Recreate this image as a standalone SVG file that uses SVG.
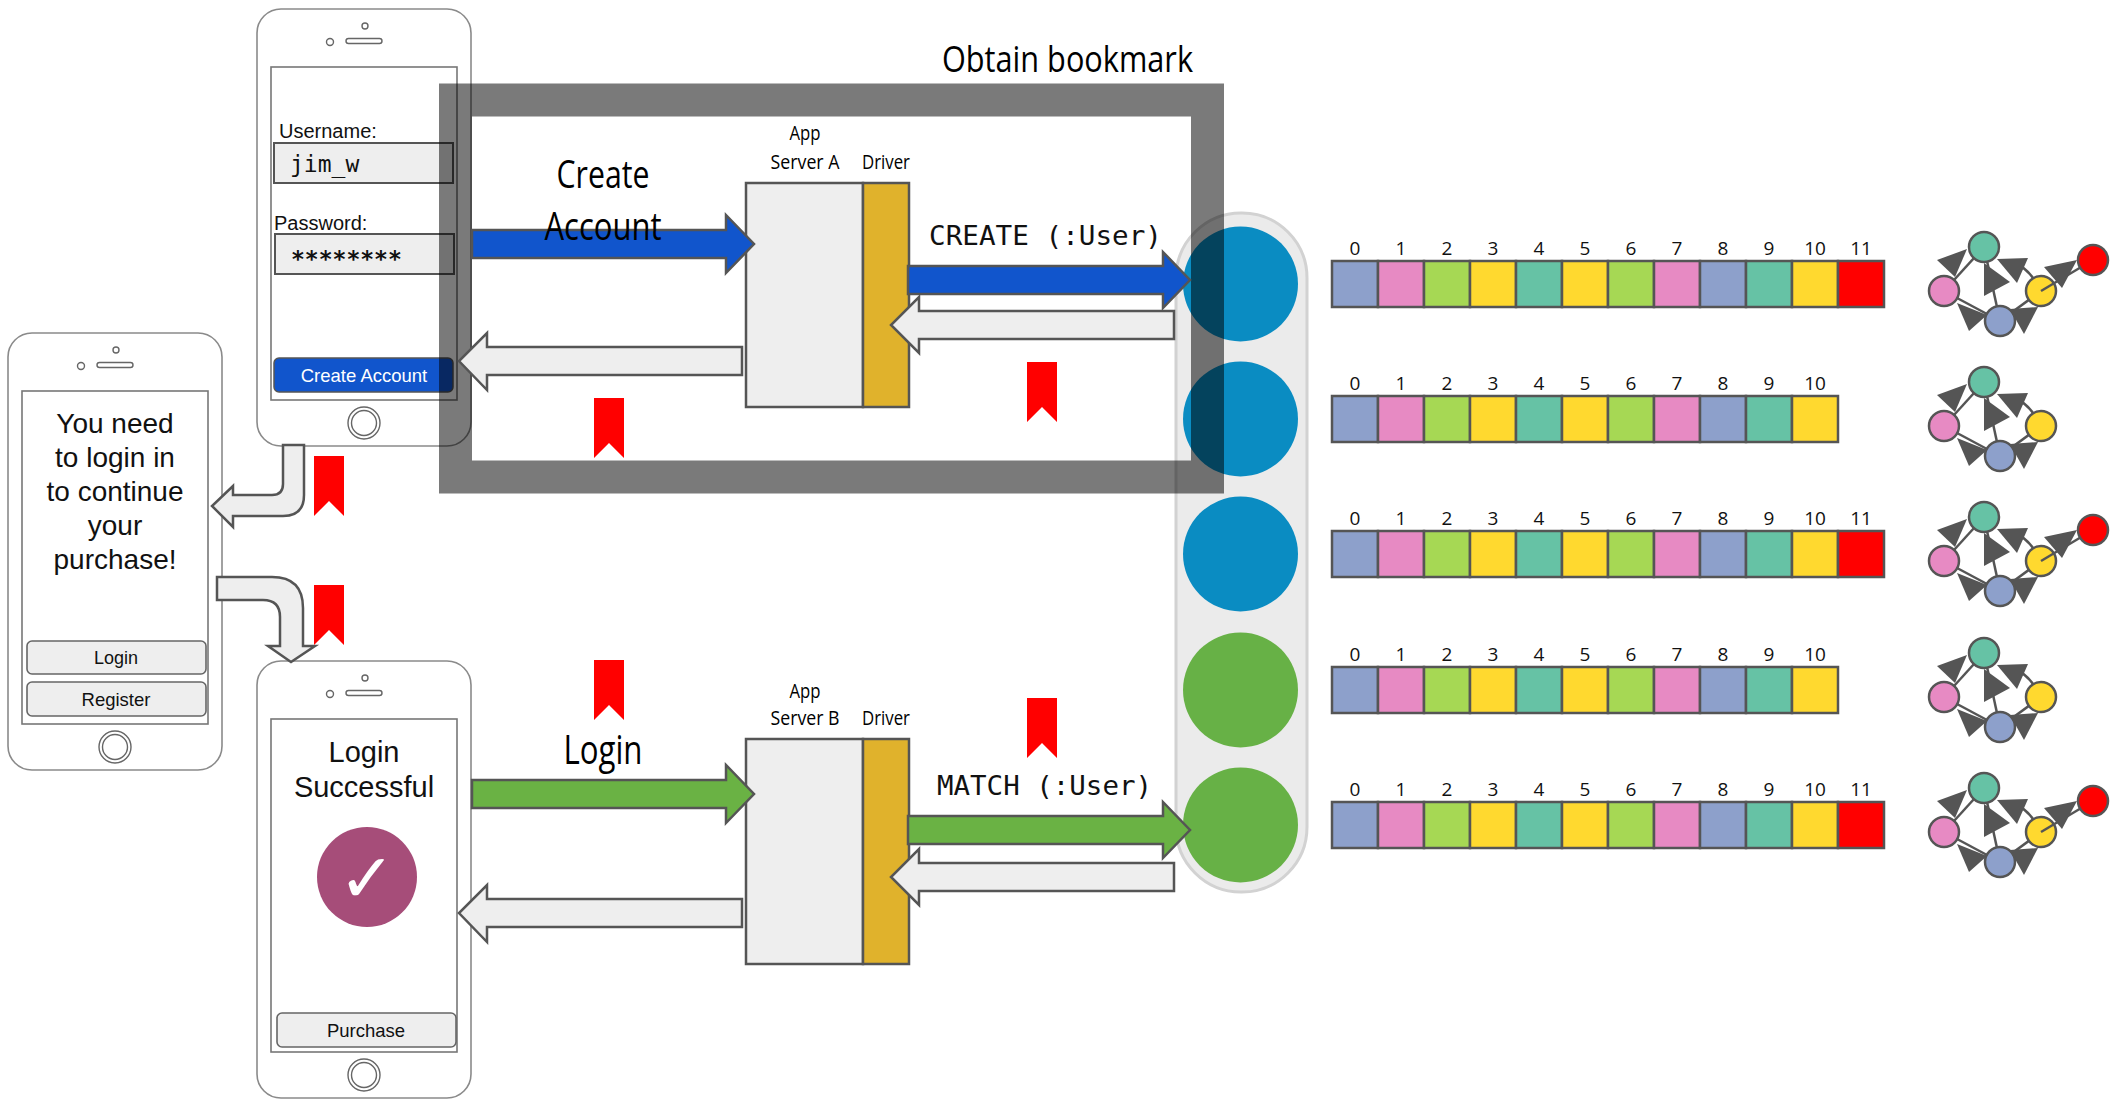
<svg xmlns="http://www.w3.org/2000/svg" xmlns:xlink="http://www.w3.org/1999/xlink" width="2120" height="1101" viewBox="0 0 2120 1101">
  <style>
    .body { fill: #ffffff; stroke: #8a8a8a; stroke-width: 1.6; }
    .screen { fill: #ffffff; stroke: #777777; stroke-width: 1.6; }
    .dot { fill: #ffffff; stroke: #666666; stroke-width: 1.4; }
    .btn { fill: #eeeeee; stroke: #666666; stroke-width: 1.6; }
    .field { fill: #eeeeee; stroke: #555555; stroke-width: 2; }
    .ui { font-family: "Liberation Sans", Arial, sans-serif; fill: #111111; }
    .mono { font-family: "DejaVu Sans Mono", "Liberation Mono", monospace; fill: #111111; }
    .label { font-family: "Open Sans", "Liberation Sans", sans-serif; fill: #000000; }
    .gray-arrow { fill: #eeeeee; stroke: #555555; stroke-width: 2.5; stroke-linejoin: miter; }
    .blue-arrow { fill: #1155cc; stroke: #555555; stroke-width: 2.5; }
    .green-arrow { fill: #6ab244; stroke: #555555; stroke-width: 2.5; }
    .server { fill: #eeeeee; stroke: #555555; stroke-width: 2.5; }
    .driver { fill: #e0b22c; stroke: #555555; stroke-width: 2.5; }
    .cell { stroke: #555555; stroke-width: 2.5; }
    .idx { font-family: "Open Sans", "Liberation Sans", sans-serif; font-size: 19px; fill: #111111; text-anchor: middle; }
    .gnode { stroke: #555555; stroke-width: 2.5; }
    .gedge { stroke: #555555; stroke-width: 2.5; fill: none; }
    .ghead { fill: #555555; }
    .bm { fill: #ff0000; }
  </style>
  <defs>
    <!-- handset outline shared by the three phones -->
    <g id="phone">
      <rect class="body" x="0" y="0" width="214" height="437" rx="24"/>
      <rect class="screen" x="14" y="58" width="186" height="333"/>
      <circle class="dot" cx="108" cy="17" r="3"/>
      <rect class="dot" x="89" y="29.5" width="36" height="5" rx="2.5"/>
      <circle class="dot" cx="73" cy="33" r="3.5"/>
      <circle class="dot" cx="107" cy="414" r="16"/>
      <circle class="dot" cx="107" cy="414" r="12.5"/>
    </g>
    <!-- bookmark ribbon -->
    <path id="bookmark" class="bm" d="M0,0 H30 V60 L15,45 L0,60 Z"/>
    <!-- small graph, drawn for a row centred at y=284 -->
    <g id="graph-base">
      <line class="gedge" x1="1944" y1="291" x2="1984" y2="247"/>
      <line class="gedge" x1="1984" y1="247" x2="2000" y2="321"/>
      <path class="gedge" d="M2041,291 Q2030,268 2012,262"/>
      <line class="gedge" x1="2000" y1="321" x2="1944" y2="291"/>
      <line class="gedge" x1="2000" y1="321" x2="2041" y2="291"/>
      <polygon class="ghead" points="1937,260 1967,249 1955,277"/>
      <polygon class="ghead" points="1984,263 2010,282 1984,296"/>
      <polygon class="ghead" points="1997,259 2028,258 2017,283"/>
      <polygon class="ghead" points="1957,303 1987,315 1969,331"/>
      <polygon class="ghead" points="2010,309 2038,307 2024,334"/>
      <circle class="gnode" cx="1984" cy="247" r="15" fill="#66c2a5"/>
      <circle class="gnode" cx="1944" cy="291" r="15" fill="#e78ac3"/>
      <circle class="gnode" cx="2000" cy="321" r="15" fill="#8da0cb"/>
      <circle class="gnode" cx="2041" cy="291" r="15" fill="#ffd92f"/>
    </g>
    <g id="graph-red">
      <line class="gedge" x1="2041" y1="291" x2="2093" y2="260"/>
      <polygon class="ghead" points="2044,267 2077,260 2062,288"/>
      <circle class="gnode" cx="2093" cy="260" r="15" fill="#ff0000"/>
    </g>
  </defs>

  <!-- phone: login prompt -->
  <g id="phone-prompt">
    <use xlink:href="#phone" x="8" y="333"/>
    <g class="ui" font-size="28" text-anchor="middle">
      <text x="115" y="433">You need</text>
      <text x="115" y="467">to login in</text>
      <text x="115" y="501">to continue</text>
      <text x="115" y="535">your</text>
      <text x="115" y="569">purchase!</text>
    </g>
    <rect class="btn" x="27" y="641" width="179" height="33" rx="5"/>
    <rect class="btn" x="27" y="682" width="179" height="34" rx="5"/>
    <text class="ui" x="116" y="664" font-size="18" text-anchor="middle">Login</text>
    <text class="ui" x="116" y="706" font-size="18.5" text-anchor="middle">Register</text>
  </g>

  <!-- phone: create account form -->
  <g id="phone-register">
    <use xlink:href="#phone" x="257" y="9"/>
    <text class="ui" x="279" y="138" font-size="20">Username:</text>
    <rect class="field" x="274" y="143" width="179" height="40"/>
    <text class="mono" x="290" y="172" font-size="23">jim_w</text>
    <text class="ui" x="274" y="230" font-size="20">Password:</text>
    <rect class="field" x="275" y="234" width="179" height="40"/>
    <text class="mono" x="291" y="267" font-size="23" font-weight="bold">********</text>
    <rect x="274" y="358" width="179" height="34" rx="5" fill="#1155cc" stroke="#555555" stroke-width="1.5"/>
    <text class="ui" x="364" y="382" font-size="18.5" text-anchor="middle" style="fill:#ffffff">Create Account</text>
  </g>

  <!-- phone: login confirmation -->
  <g id="phone-success">
    <use xlink:href="#phone" x="257" y="661"/>
    <text class="ui" x="364" y="762" font-size="29" text-anchor="middle">Login</text>
    <text class="ui" x="364" y="797" font-size="29" text-anchor="middle">Successful</text>
    <circle cx="367" cy="877" r="50" fill="#a64d79"/>
    <text x="367" y="902" font-family="DejaVu Sans, sans-serif" font-size="68" text-anchor="middle" fill="#ffffff">✓</text>
    <rect class="btn" x="277" y="1013" width="179" height="34" rx="5"/>
    <text class="ui" x="366" y="1037" font-size="18.5" text-anchor="middle">Purchase</text>
  </g>

  <!-- database cluster -->
  <g id="cluster">
    <rect x="1176" y="213" width="131" height="679" rx="65" fill="#ebebeb" stroke="#d2d2d2" stroke-width="3"/>
    <circle id="member-1" cx="1240.5" cy="284" r="57.5" fill="#0a8cc2"/>
    <circle id="member-2" cx="1240.5" cy="419" r="57.5" fill="#0a8cc2"/>
    <circle id="member-3" cx="1240.5" cy="554" r="57.5" fill="#0a8cc2"/>
    <circle id="member-4" cx="1240.5" cy="690" r="57.5" fill="#67b146"/>
    <circle id="member-5" cx="1240.5" cy="825" r="57.5" fill="#67b146"/>
  </g>

  <!-- transaction boundary -->
  <g id="obtain-bookmark">
    <rect x="455.5" y="100" width="752" height="377" fill="none" stroke="#000000" stroke-opacity="0.52" stroke-width="33"/>
    <text class="label" x="942" y="72" font-size="37" textLength="251" lengthAdjust="spacingAndGlyphs">Obtain bookmark</text>
  </g>

  <!-- application servers with drivers -->
  <g id="server-a">
    <rect class="server" x="746" y="183" width="117" height="224"/>
    <rect class="driver" x="863" y="183" width="46" height="224"/>
    <text class="label" x="805" y="140" font-size="20" text-anchor="middle" textLength="31" lengthAdjust="spacingAndGlyphs">App</text>
    <text class="label" x="805" y="169" font-size="20" text-anchor="middle" textLength="69" lengthAdjust="spacingAndGlyphs">Server A</text>
    <text class="label" x="886" y="169" font-size="20" text-anchor="middle" textLength="48" lengthAdjust="spacingAndGlyphs">Driver</text>
  </g>
  <g id="server-b">
    <rect class="server" x="746" y="739" width="117" height="225"/>
    <rect class="driver" x="863" y="739" width="46" height="225"/>
    <text class="label" x="805" y="698" font-size="20" text-anchor="middle" textLength="31" lengthAdjust="spacingAndGlyphs">App</text>
    <text class="label" x="805" y="725" font-size="20" text-anchor="middle" textLength="69" lengthAdjust="spacingAndGlyphs">Server B</text>
    <text class="label" x="886" y="725" font-size="20" text-anchor="middle" textLength="48" lengthAdjust="spacingAndGlyphs">Driver</text>
  </g>

  <!-- transaction logs, one per member -->
  <g id="logs">
    <g id="log-1">
      <rect class="cell" x="1332" y="261" width="46" height="46" fill="#8da0cb"/>
      <rect class="cell" x="1378" y="261" width="46" height="46" fill="#e78ac3"/>
      <rect class="cell" x="1424" y="261" width="46" height="46" fill="#a6d854"/>
      <rect class="cell" x="1470" y="261" width="46" height="46" fill="#ffd92f"/>
      <rect class="cell" x="1516" y="261" width="46" height="46" fill="#66c2a5"/>
      <rect class="cell" x="1562" y="261" width="46" height="46" fill="#ffd92f"/>
      <rect class="cell" x="1608" y="261" width="46" height="46" fill="#a6d854"/>
      <rect class="cell" x="1654" y="261" width="46" height="46" fill="#e78ac3"/>
      <rect class="cell" x="1700" y="261" width="46" height="46" fill="#8da0cb"/>
      <rect class="cell" x="1746" y="261" width="46" height="46" fill="#66c2a5"/>
      <rect class="cell" x="1792" y="261" width="46" height="46" fill="#ffd92f"/>
      <rect class="cell" x="1838" y="261" width="46" height="46" fill="#ff0000"/>
      <text class="idx" x="1355" y="255">0</text><text class="idx" x="1401" y="255">1</text><text class="idx" x="1447" y="255">2</text><text class="idx" x="1493" y="255">3</text><text class="idx" x="1539" y="255">4</text><text class="idx" x="1585" y="255">5</text><text class="idx" x="1631" y="255">6</text><text class="idx" x="1677" y="255">7</text><text class="idx" x="1723" y="255">8</text><text class="idx" x="1769" y="255">9</text><text class="idx" x="1815" y="255">10</text><text class="idx" x="1861" y="255">11</text>
    </g>
    <g id="log-2" transform="translate(0,135)">
      <rect class="cell" x="1332" y="261" width="46" height="46" fill="#8da0cb"/>
      <rect class="cell" x="1378" y="261" width="46" height="46" fill="#e78ac3"/>
      <rect class="cell" x="1424" y="261" width="46" height="46" fill="#a6d854"/>
      <rect class="cell" x="1470" y="261" width="46" height="46" fill="#ffd92f"/>
      <rect class="cell" x="1516" y="261" width="46" height="46" fill="#66c2a5"/>
      <rect class="cell" x="1562" y="261" width="46" height="46" fill="#ffd92f"/>
      <rect class="cell" x="1608" y="261" width="46" height="46" fill="#a6d854"/>
      <rect class="cell" x="1654" y="261" width="46" height="46" fill="#e78ac3"/>
      <rect class="cell" x="1700" y="261" width="46" height="46" fill="#8da0cb"/>
      <rect class="cell" x="1746" y="261" width="46" height="46" fill="#66c2a5"/>
      <rect class="cell" x="1792" y="261" width="46" height="46" fill="#ffd92f"/>
      <text class="idx" x="1355" y="255">0</text><text class="idx" x="1401" y="255">1</text><text class="idx" x="1447" y="255">2</text><text class="idx" x="1493" y="255">3</text><text class="idx" x="1539" y="255">4</text><text class="idx" x="1585" y="255">5</text><text class="idx" x="1631" y="255">6</text><text class="idx" x="1677" y="255">7</text><text class="idx" x="1723" y="255">8</text><text class="idx" x="1769" y="255">9</text><text class="idx" x="1815" y="255">10</text>
    </g>
    <use xlink:href="#log-1" id="log-3" y="270"/>
    <use xlink:href="#log-2" id="log-4" y="271"/>
    <use xlink:href="#log-1" id="log-5" y="541"/>
  </g>

  <!-- graph state per member -->
  <g id="graphs">
    <g id="graph-1"><use xlink:href="#graph-base"/><use xlink:href="#graph-red"/></g>
    <g id="graph-2" transform="translate(0,135)"><use xlink:href="#graph-base"/></g>
    <g id="graph-3" transform="translate(0,270)"><use xlink:href="#graph-base"/><use xlink:href="#graph-red"/></g>
    <g id="graph-4" transform="translate(0,406)"><use xlink:href="#graph-base"/></g>
    <g id="graph-5" transform="translate(0,541)"><use xlink:href="#graph-base"/><use xlink:href="#graph-red"/></g>
  </g>

  <!-- connectors -->
  <g id="connectors">
    <path class="gray-arrow" d="M283,445 L304,445 L304,495 Q304,516 283,516 L233,516 L233,527 L212,506 L233,486 L233,495 L272,495 Q283,495 283,484 Z"/>
    <path class="gray-arrow" d="M217,577 L272,577 Q303,577 303,608 L303,646 L315,646 L291,662 L268,646 L280,646 L280,617 Q280,600 263,600 L217,600 Z"/>
    <polygon class="blue-arrow" points="472,230 726,230 726,215 754,244 726,273 726,258 472,258"/>
    <polygon class="gray-arrow" points="742,347 487,347 487,333 459,361 487,390 487,375 742,375"/>
    <polygon class="blue-arrow" points="908,266 1163,266 1163,252 1190,280 1163,308 1163,294 908,294"/>
    <polygon class="gray-arrow" points="1174,311 919,311 919,297 891,325 919,353 919,339 1174,339"/>
    <polygon class="green-arrow" points="472,780 726,780 726,765 754,794 726,823 726,808 472,808"/>
    <polygon class="gray-arrow" points="742,899 487,899 487,885 459,913 487,942 487,927 742,927"/>
    <polygon class="green-arrow" points="908,816 1163,816 1163,802 1190,830 1163,858 1163,844 908,844"/>
    <polygon class="gray-arrow" points="1174,863 919,863 919,849 891,877 919,905 919,891 1174,891"/>
    <text class="label" x="603" y="188" font-size="39" text-anchor="middle" textLength="93" lengthAdjust="spacingAndGlyphs">Create</text>
    <text class="label" x="603" y="240" font-size="39" text-anchor="middle" textLength="117" lengthAdjust="spacingAndGlyphs">Account</text>
    <text class="label" x="603" y="764" font-size="40" text-anchor="middle" textLength="79" lengthAdjust="spacingAndGlyphs">Login</text>
    <text class="mono" x="929" y="245" font-size="27" textLength="233" lengthAdjust="spacingAndGlyphs">CREATE (:User)</text>
    <text class="mono" x="937" y="795" font-size="27" textLength="215" lengthAdjust="spacingAndGlyphs">MATCH (:User)</text>
  </g>

  <!-- bookmarks carried along each step -->
  <g id="bookmarks">
    <use xlink:href="#bookmark" x="594" y="398"/>
    <use xlink:href="#bookmark" x="1027" y="362"/>
    <use xlink:href="#bookmark" x="314" y="456"/>
    <use xlink:href="#bookmark" x="314" y="585"/>
    <use xlink:href="#bookmark" x="594" y="660"/>
    <use xlink:href="#bookmark" x="1027" y="698"/>
  </g>
</svg>
